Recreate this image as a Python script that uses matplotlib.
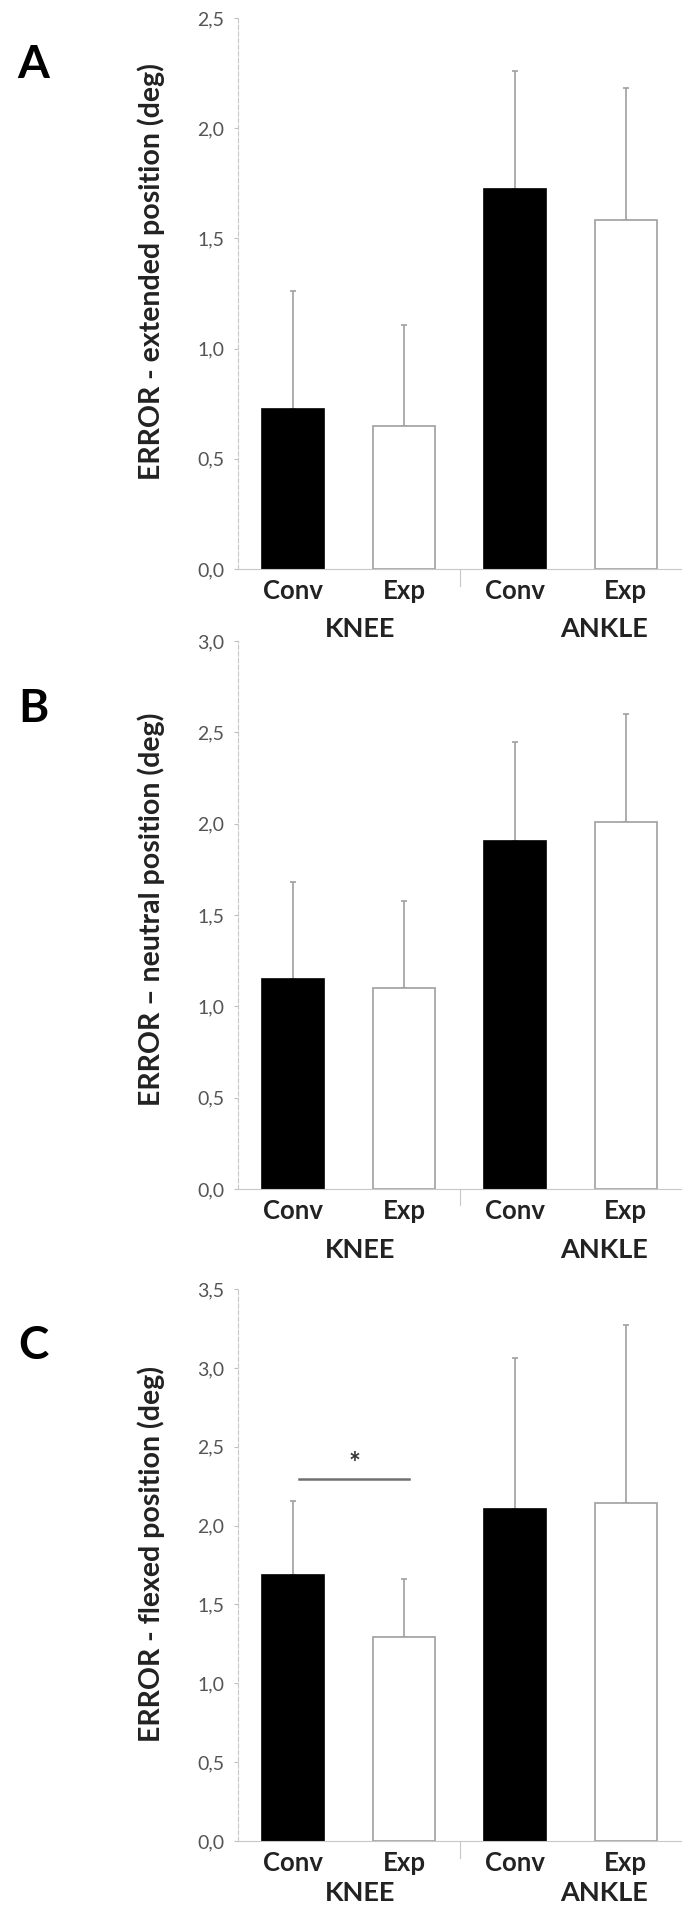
import matplotlib
matplotlib.use('Agg')
import matplotlib.pyplot as plt
import numpy as np

plt.rcParams['font.family'] = ['Lato', 'DejaVu Sans']

# data
categories = ['Conv', 'Exp', 'Conv', 'Exp']
groups = ['KNEE', 'ANKLE']

extended_mean = [0.725, 0.647, 1.725, 1.585]
extended_sd = [0.535, 0.459, 0.533, 0.599]

neutral_mean = [1.151, 1.102, 1.903, 2.008]
neutral_sd = [0.529, 0.472, 0.546, 0.590]

flexed_mean = [1.688, 1.292, 2.105, 2.141]
flexed_sd = [0.466, 0.371, 0.960, 1.129]

extended_ticks = [0.0, 0.5, 1.0, 1.5, 2.0, 2.5]
neutral_ticks = [0.0, 0.5, 1.0, 1.5, 2.0, 2.5, 3.0]
flexed_ticks = [0.0, 0.5, 1.0, 1.5, 2.0, 2.5, 3.0, 3.5]

panels = [
    {'letter': 'A', 'ylabel': 'ERROR - extended position (deg)',
     'mean': extended_mean, 'sd': extended_sd, 'ticks': extended_ticks,
     'rect': [0.346, 0.7021, 0.644, 0.2885], 'letter_drop': 0.0245,
     'label_y': 0.54, 'group_y': -0.108},
    {'letter': 'B', 'ylabel': 'ERROR \u2013 neutral position (deg)',
     'mean': neutral_mean, 'sd': neutral_sd, 'ticks': neutral_ticks,
     'rect': [0.346, 0.3775, 0.644, 0.2869], 'letter_drop': 0.0355,
     'label_y': 0.51, 'group_y': -0.112},
    {'letter': 'C', 'ylabel': 'ERROR - flexed position (deg)',
     'mean': flexed_mean, 'sd': flexed_sd, 'ticks': flexed_ticks,
     'rect': [0.346, 0.0361, 0.644, 0.2890], 'letter_drop': 0.030,
     'label_y': 0.52, 'group_y': -0.094},
]

bar_colors = ['black', 'white', 'black', 'white']
edge_colors = ['black', '#a0a0a0', 'black', '#a0a0a0']
grey = '#a0a0a0'

fig = plt.figure(figsize=(6.88, 19.10), dpi=100)

for p in panels:
    ax = fig.add_axes(p['rect'])
    x = np.arange(len(categories))
    ax.bar(x, p['mean'], width=0.56, color=bar_colors, edgecolor=edge_colors,
           linewidth=1.2, zorder=2)
    ax.errorbar(x, p['mean'], yerr=[np.zeros(len(x)), p['sd']], fmt='none',
                ecolor=grey, elinewidth=1.2, capsize=2, capthick=1.2, zorder=1)

    ax.set_xlim(-0.5, 3.5)
    ax.set_ylim(0, p['ticks'][-1])
    ax.set_yticks(p['ticks'])
    ax.set_yticklabels([f'{t:.1f}'.replace('.', ',') for t in p['ticks']],
                       fontsize=14, color='#555555')
    ax.set_xticks(x)
    ax.set_xticklabels(categories, fontsize=18.5, fontweight='bold', color='#222222')
    ax.tick_params(axis='x', length=0, pad=7)
    ax.tick_params(axis='y', length=3, color='#c0c0c0', width=0.8, pad=7)

    for side in ['top', 'right']:
        ax.spines[side].set_visible(False)
    ax.spines['left'].set_color('#c8c8c8')
    ax.spines['left'].set_linestyle((0, (4, 2)))
    ax.spines['bottom'].set_color('#c8c8c8')

    # group separator tick below the axis
    ax.plot([1.5, 1.5], [0, -0.03 * p['ticks'][-1]], color='#c8c8c8', lw=0.8,
            clip_on=False)

    # group labels
    ax.text(0.6, p['group_y'], groups[0], transform=ax.get_xaxis_transform(),
            ha='center', va='center', fontsize=19.5, fontweight='bold', color='#222222')
    ax.text(2.8, p['group_y'], groups[1], transform=ax.get_xaxis_transform(),
            ha='center', va='center', fontsize=19.5, fontweight='bold', color='#222222')

    ax.set_ylabel(p['ylabel'], fontsize=20.5, fontweight='bold', color='#222222')
    ax.yaxis.set_label_coords(-0.165, p['label_y'])

    # panel letter
    fig.text(0.048, p['rect'][1] + p['rect'][3] - p['letter_drop'], p['letter'],
             fontsize=33, fontweight='bold', ha='center', va='center')

    if p['letter'] == 'C':
        ax.plot([0.05, 1.04], [2.295, 2.295], color='#707070', lw=1.8)
        ax.text(0.55, 2.39, '*', ha='center', va='center', fontsize=20,
                fontweight='bold', color='#333333')

fig.savefig('out.png', dpi=100, facecolor='white')
